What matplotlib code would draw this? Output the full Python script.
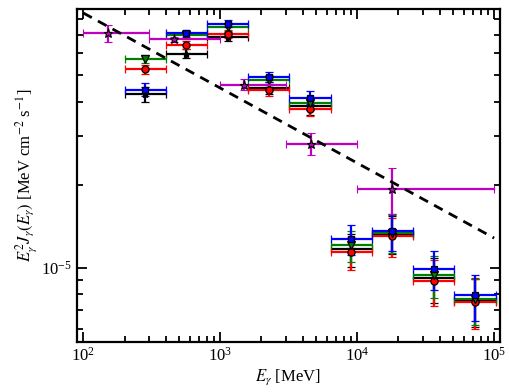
import numpy as np
import matplotlib
matplotlib.use("Agg")
import matplotlib.pyplot as plt
from matplotlib.ticker import LogLocator, NullFormatter

plt.rcParams['font.family'] = ['Liberation Serif', 'DejaVu Serif']
plt.rcParams['mathtext.fontset'] = 'stix'

# Binned spectra, flux in units of 1e-5 MeV cm^-2 s^-1
E_bins = np.array([200, 400, 800, 1600, 3200, 6400, 12800, 25600, 51200, 102400])
E_mid = np.array([283, 566, 1131, 2263, 4525, 9050, 18100, 36200, 72400])

blue_F = np.array([4.43, 7.08, 7.69, 4.93, 4.14, 1.27, 1.36, 0.987, 0.792])
blue_err = np.array([0.25, 0.20, 0.22, 0.20, 0.22, 0.16, 0.21, 0.16, 0.15])
green_F = np.array([5.73, 6.98, 7.50, 4.80, 3.95, 1.205, 1.34, 0.941, 0.767])
green_err = np.array([0.20, 0.25, 0.25, 0.20, 0.22, 0.155, 0.21, 0.165, 0.15])
red_F = np.array([5.24, 6.43, 7.05, 4.43, 3.78, 1.138, 1.30, 0.895, 0.752])
red_err = np.array([0.18, 0.22, 0.25, 0.22, 0.22, 0.155, 0.21, 0.17, 0.155])
black_F = np.array([4.25, 5.98, 6.90, 4.50, 3.87, 1.167, 1.326, 0.915, 0.759])
black_err = np.array([0.26, 0.22, 0.28, 0.22, 0.30, 0.16, 0.21, 0.17, 0.15])

# Magenta series with its own binning
mag_E = np.array([151, 457, 1500, 4590, 18000])
mag_lo = np.array([100, 300, 1000, 3000, 10000])
mag_hi = np.array([300, 1000, 3000, 10000, 100000])
mag_F = np.array([7.11, 6.73, 4.61, 2.82, 1.93])
mag_err_lo = np.array([0.50, 0.15, 0.21, 0.25, 0.37])
mag_err_hi = np.array([0.50, 0.15, 0.23, 0.25, 0.36])

# Dashed power-law reference line (endpoints)
line_E = [100, 1e5]
line_F = [8.4, 1.28]

fig = plt.figure(figsize=(5.1, 3.92), dpi=100)
ax = fig.add_axes([0.151, 0.1276, 0.829, 0.85])

xerr_lo = E_mid - E_bins[:-1]
xerr_hi = E_bins[1:] - E_mid
scale = 1e-5

series = [
    (black_F, black_err, 'k', '*', 6.0),
    (red_F, red_err, 'r', 'o', 5.2),
    (green_F, green_err, 'g', 'v', 5.6),
    (blue_F, blue_err, 'b', 's', 5.0),
]
for F, err, c, m, ms in series:
    ax.errorbar(E_mid, F * scale, yerr=err * scale, xerr=[xerr_lo, xerr_hi],
                fmt=m, color=c, mfc=c, mec='k', ms=ms, mew=0.9,
                elinewidth=1.6, capsize=3.2, capthick=1.6, zorder=3)

ax.errorbar(mag_E, mag_F * scale, yerr=[mag_err_lo * scale, mag_err_hi * scale],
            xerr=[mag_E - mag_lo, mag_hi - mag_E], fmt='*', color='m',
            mfc='m', mec='k', ms=6.5, mew=0.8, elinewidth=1.6, capsize=3.2,
            capthick=1.6, zorder=4)

ax.plot(line_E, np.array(line_F) * scale, 'k--', lw=2, dashes=(3.5, 2.5), zorder=5)

ax.set_xscale('log')
ax.set_yscale('log')
ax.set_xlim(90, 110000)
ax.set_ylim(5.37e-6, 8.7e-5)

ax.yaxis.set_minor_locator(LogLocator(base=10, subs=np.arange(2, 10)))
ax.yaxis.set_minor_formatter(NullFormatter())
ax.xaxis.set_minor_locator(LogLocator(base=10, subs=np.arange(2, 10)))
ax.xaxis.set_minor_formatter(NullFormatter())

ax.tick_params(which='both', direction='in', top=True, right=True,
               labelsize=12, width=1.3)
ax.tick_params(which='major', length=7)
ax.tick_params(which='minor', length=4)
for s in ax.spines.values():
    s.set_linewidth(1.6)

ax.set_xlabel(r'$E_\gamma$ [MeV]', fontsize=12, labelpad=2)
ax.set_ylabel(r'$E_\gamma^2 J_\gamma(E_\gamma)$ [MeV cm$^{-2}$ s$^{-1}$]',
              fontsize=12, labelpad=2)

fig.savefig('out.png', dpi=100)
